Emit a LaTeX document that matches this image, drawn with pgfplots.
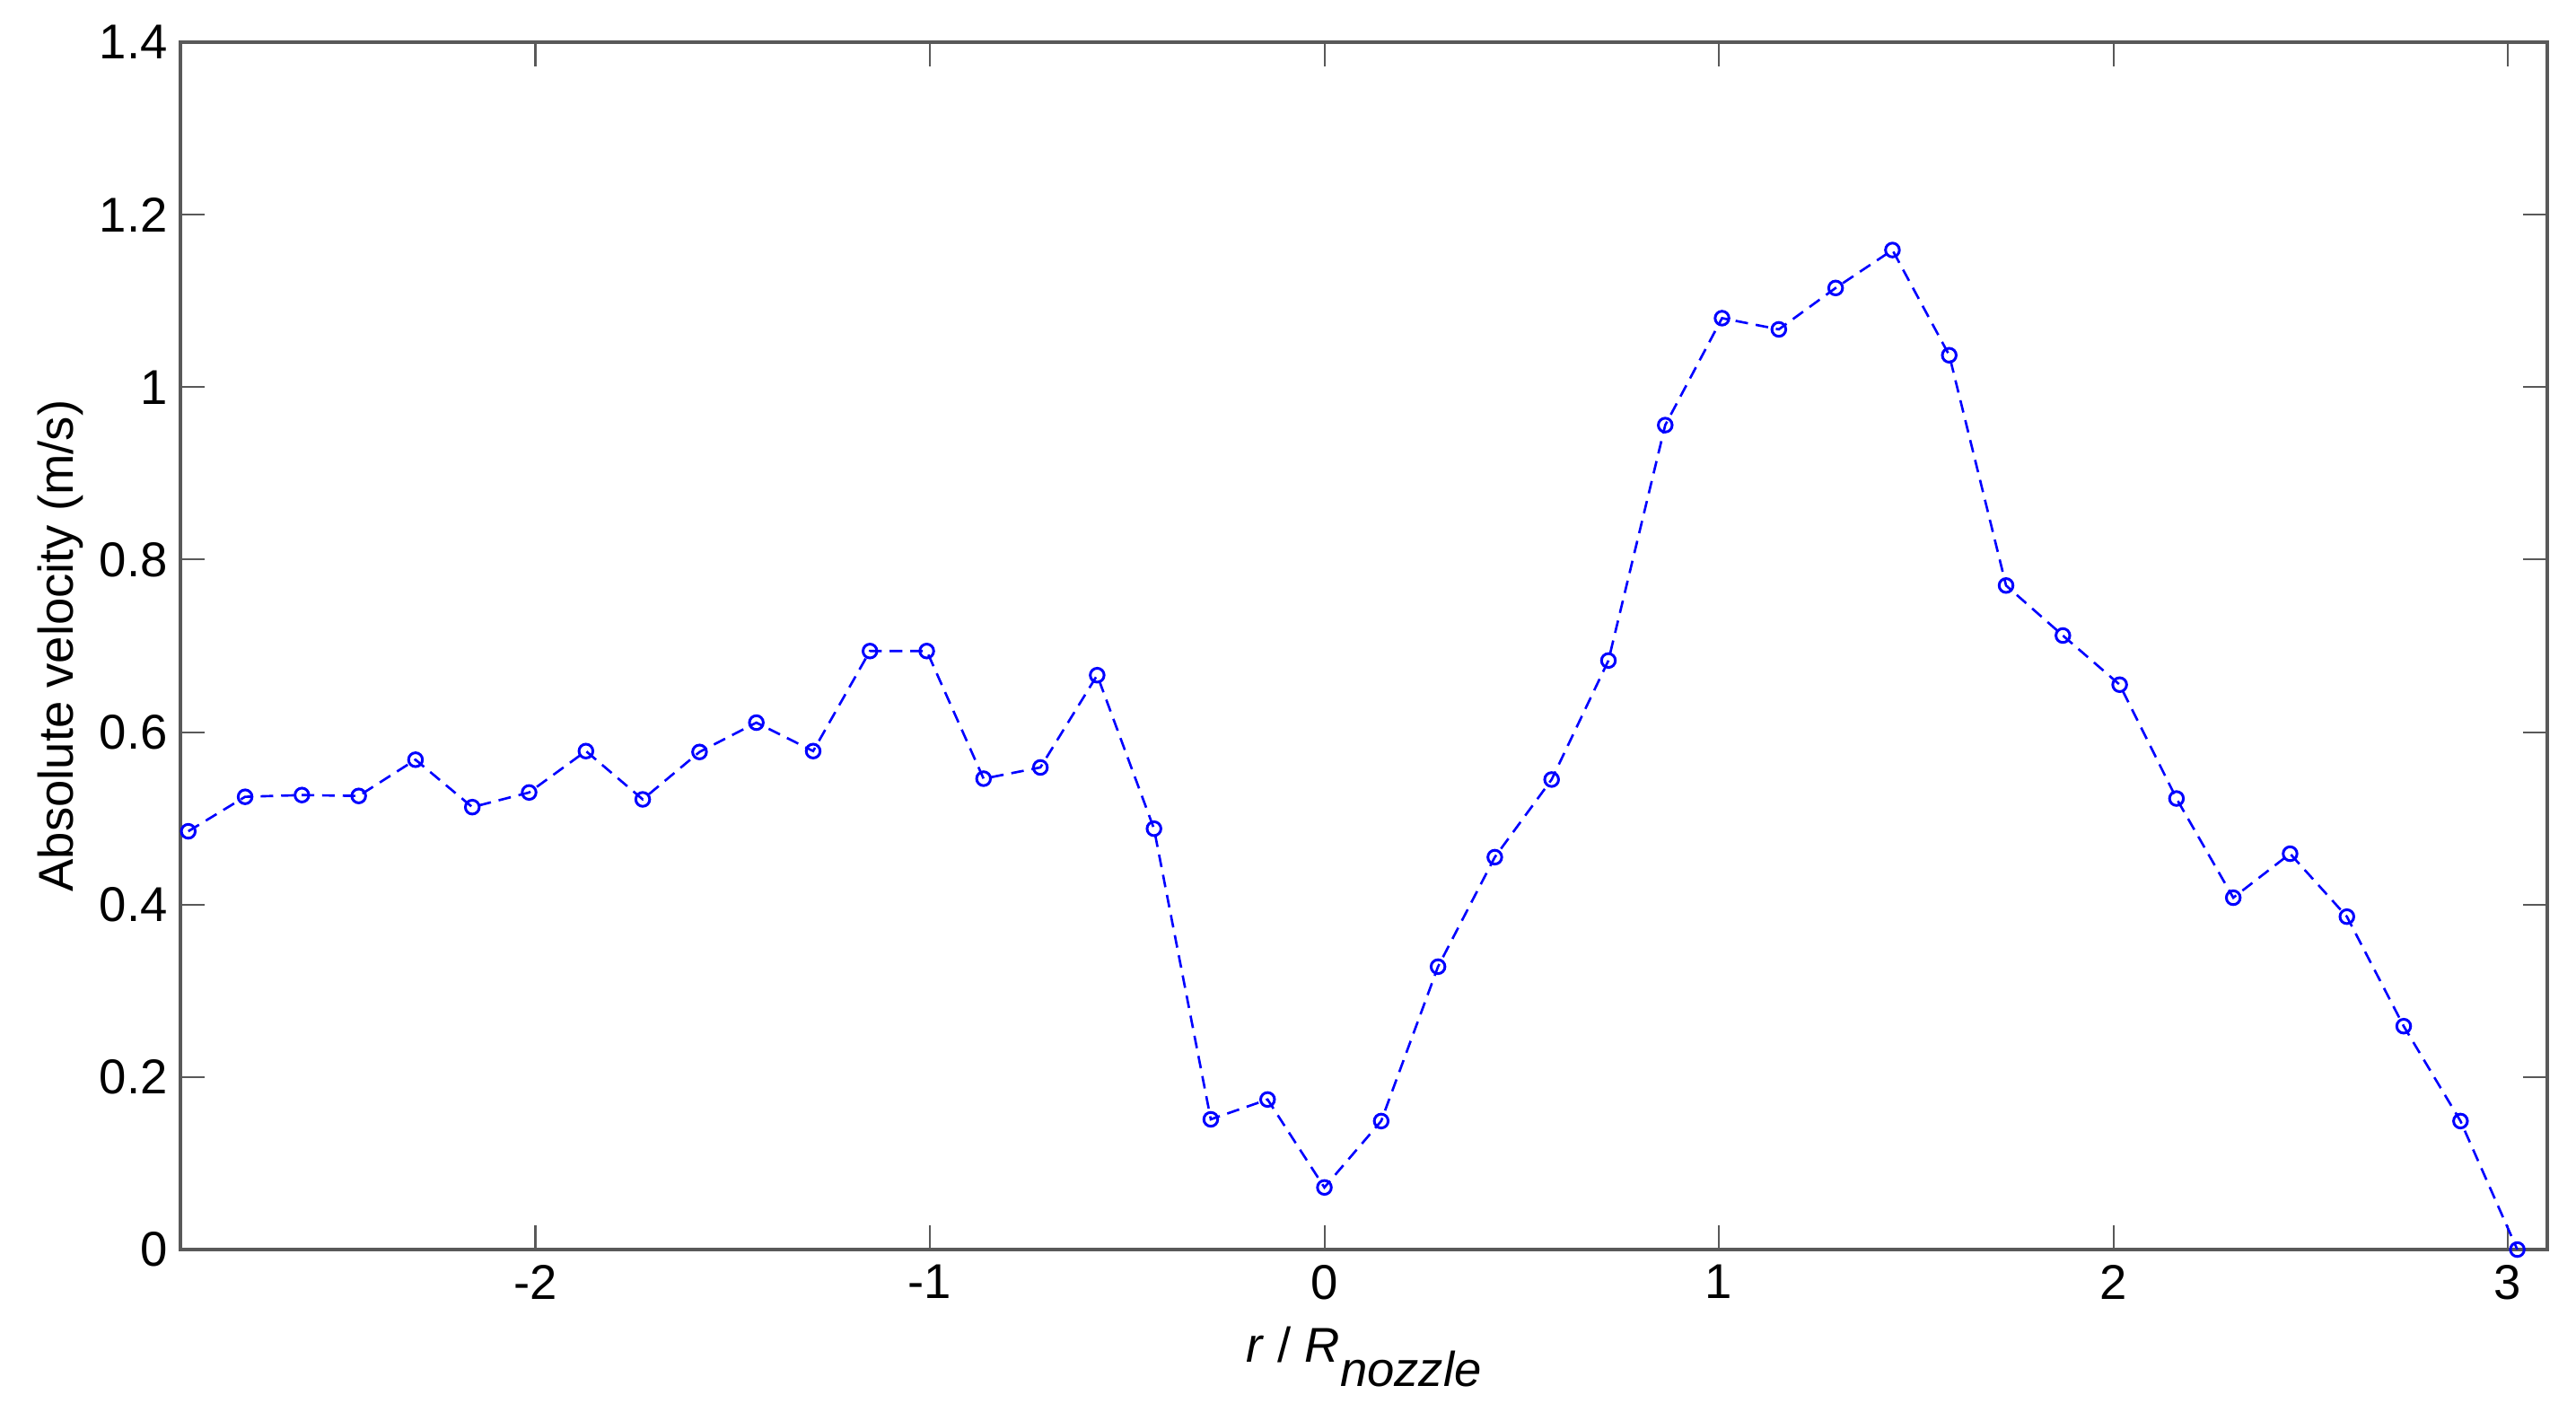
\documentclass[border=0pt]{standalone}
\usepackage{fontspec}
\setmainfont{Liberation Sans}
\usepackage{pgfplots}
\pgfplotsset{compat=1.18}

\definecolor{axgray}{gray}{0.35}

\pgfplotstableread{
x y
-2.880 0.485
-2.736 0.525
-2.592 0.527
-2.448 0.526
-2.304 0.568
-2.160 0.513
-2.016 0.530
-1.872 0.578
-1.728 0.522
-1.584 0.577
-1.440 0.611
-1.296 0.578
-1.152 0.694
-1.008 0.694
-0.864 0.546
-0.720 0.559
-0.576 0.666
-0.432 0.488
-0.288 0.151
-0.144 0.174
0.000 0.072
0.144 0.149
0.288 0.328
0.432 0.455
0.576 0.545
0.720 0.683
0.864 0.956
1.008 1.080
1.152 1.067
1.296 1.115
1.440 1.159
1.584 1.037
1.728 0.770
1.872 0.712
2.016 0.655
2.160 0.523
2.304 0.408
2.448 0.459
2.592 0.386
2.736 0.259
2.880 0.149
3.024 0.000
}\velocity

\begin{document}
\begin{tikzpicture}
\path[use as bounding box] (-2.01cm,-1.80cm) rectangle (26.69cm,13.92cm);
\begin{axis}[
  at={(0,0)}, anchor=south west,
  scale only axis,
  width=26.37cm, height=13.45cm,
  xmin=-2.9, xmax=3.1,
  ymin=0, ymax=1.4,
  xtick={-2,-1,0,1,2,3},
  ytick={0,0.2,0.4,0.6,0.8,1,1.2,1.4},
  tick align=inside,
  major tick length=0.27cm,
  every tick/.style={axgray, line width=0.6pt},
  axis line style={axgray, line width=0.9pt},
  font=\fontsize{15.5pt}{18pt}\selectfont,
  /pgf/number format/assume math mode=true,
  xticklabel style={yshift=-0.05cm},
  yticklabel style={xshift=-0.02cm},
  xlabel={\textit{r} / \textit{R}\raisebox{-0.5em}{\textit{nozzle}}},
  xlabel style={yshift=-0.06cm},
  ylabel={Absolute velocity (m/s)},
  ylabel style={yshift=-0.06cm},
]
\addplot[blue, line width=0.75pt, dash pattern=on 4pt off 2.5pt,
  mark=o, mark size=2.2pt, mark options={solid, line width=0.85pt}]
  table[x=x, y=y] {\velocity};
\end{axis}
\end{tikzpicture}
\end{document}
